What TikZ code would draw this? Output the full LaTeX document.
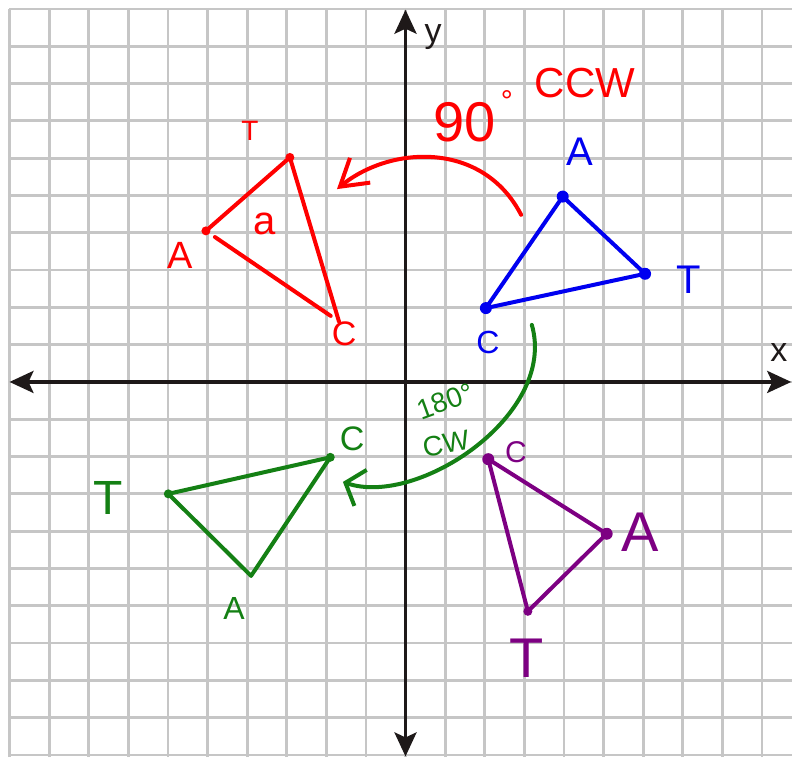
\documentclass[tikz,border=0pt]{standalone}
\usepackage{fontspec}
\setmainfont{Liberation Sans}
\usetikzlibrary{arrows.meta, positioning}
\definecolor{gridgray}{RGB}{198,198,198}
\definecolor{axisblack}{RGB}{30,25,25}
\definecolor{penred}{RGB}{255,0,0}
\definecolor{penblue}{RGB}{0,0,240}
\definecolor{pengreen}{RGB}{20,128,20}
\definecolor{penpurple}{RGB}{125,0,130}
\newcommand{\handsize}[1]{\fontsize{#1}{#1}\selectfont}
\tikzset{
    gridline/.style={draw=gridgray, line width=1.4pt, step=1},
    axis/.style={line width=1.75pt, draw=axisblack, >={Stealth[length=12pt,width=11pt,inset=2.5pt]}, <->},
    pen/.style={line width=2pt, line cap=round, line join=round},
    vdot/.style={circle, fill, inner sep=0pt, minimum size=4.5pt},
    bigdot/.style={vdot, minimum size=6pt},
    hand/.style={inner sep=0pt, font=\handsize{#1}},
    axislabel/.style={inner sep=0pt, font=\handsize{17}, text=axisblack}
}

\begin{document}
\begin{tikzpicture}[x=19.8pt, y=18.65pt]
        % Grid and axes
        \useasboundingbox (-10.24,-10.06) rectangle (9.76,10.24);
        \fill[white] (-10.24,-10.06) rectangle (9.76,10.24);
        \draw[gridline] (-10,-10.06) grid (9.76,10);
        \coordinate (xleft) at (-10,0);
        \coordinate (xright) at (9.74,0);
        \coordinate (ybottom) at (0,-10.04);
        \coordinate (ytop) at (0,9.98);
        \draw[axis] (xleft) -- (xright);
        \draw[axis] (ybottom) -- (ytop);
        \node[axislabel] (xlbl) at (9.43,0.80) {x};
        \node[axislabel] (ylbl) at (0.70,9.25) {y};

        % Blue triangle
        \node[bigdot, penblue] (bA) at (3.97,4.97) {};
        \node[bigdot, penblue] (bT) at (6.05,2.90) {};
        \node[bigdot, penblue] (bC) at (2.03,1.98) {};
        \draw[pen, penblue] (bA.center) -- (bT.center) -- (bC.center) -- cycle;
        \node[hand=20, penblue] (bAlbl) at (4.41,6.17) {A};
        \node[hand=20, penblue] (bTlbl) at (7.16,2.73) {T};
        \node[hand=16, penblue] (bClbl) at (2.08,1.05) {C};

        % Red triangle
        \node[vdot, penred] (rA) at (-5.04,4.05) {};
        \node[vdot, penred] (rT) at (-2.92,6.02) {};
        \coordinate (rC) at (-1.68,1.62);
        \draw[pen, penred] (rA.center) -- (rT.center) -- (rC);
        \draw[pen, penred, shorten <=3pt, shorten >=5pt] (rA) -- (rC);
        \node[hand=14, penred] (rTlbl) at (-3.93,6.73) {T};
        \node[hand=20, penred] (rangle) at (-3.55,4.24) {a};
        \node[hand=19, penred] (rAlbl) at (-5.69,3.40) {A};
        \node[hand=17, penred] (rClbl) at (-1.55,1.29) {C};

        % Green triangle
        \node[vdot, pengreen] (gT) at (-5.99,-3.00) {};
        \node[vdot, pengreen] (gC) at (-1.90,-2.02) {};
        \coordinate (gA) at (-3.90,-5.20);
        \draw[pen, pengreen] (gT.center) -- (gC.center) -- (gA) -- cycle;
        \node[hand=17, pengreen] (gClbl) at (-1.35,-1.53) {C};
        \node[hand=24, pengreen] (gTlbl) at (-7.51,-3.11) {T};
        \node[hand=16, pengreen] (gAlbl) at (-4.33,-6.06) {A};

        % Purple triangle
        \node[bigdot, penpurple] (pC) at (2.09,-2.07) {};
        \node[bigdot, penpurple] (pA) at (5.08,-4.07) {};
        \node[vdot, penpurple] (pT) at (3.09,-6.15) {};
        \draw[pen, penpurple] (pC.center) -- (pA.center) -- (pT.center) -- cycle;
        \node[hand=15, penpurple] (pClbl) at (2.79,-1.88) {C};
        \node[hand=28, penpurple] (pAlbl) at (5.92,-4.02) {A};
        \node[hand=28, penpurple] (pTlbl) at (3.07,-7.40) {T};

        % Rotation arrows
        \coordinate (redstart) at (2.92,4.48);
        \coordinate (redend) at (-1.73,5.17);
        \draw[pen, penred, -{Straight Barb[length=13pt,width=16pt]}] (redstart) .. controls (1.96,6.46) and (-0.37,6.35) .. (redend);
        \node[hand=28, penred] (ninety) at (1.50,6.97) {90};
        \node[hand=15, penred, anchor=north] (degree) at (2.56,7.83) {°};
        \node[hand=21, penred] (ccw) at (4.53,8.02) {CCW};

        \coordinate (greenstart) at (3.19,1.53);
        \coordinate (greenend) at (-1.58,-2.68);
        \draw[pen, pengreen, -{Straight Barb[length=8pt,width=19pt]}] (greenstart) .. controls (3.84,-0.88) and (0.30,-3.36) .. (greenend);
        \node[hand=14, pengreen, rotate=20] (oneeighty) at (1.00,-0.52) {180°};
        \node[hand=14, pengreen, rotate=10] (cw) at (1.02,-1.66) {CW};
\end{tikzpicture}
\end{document}
